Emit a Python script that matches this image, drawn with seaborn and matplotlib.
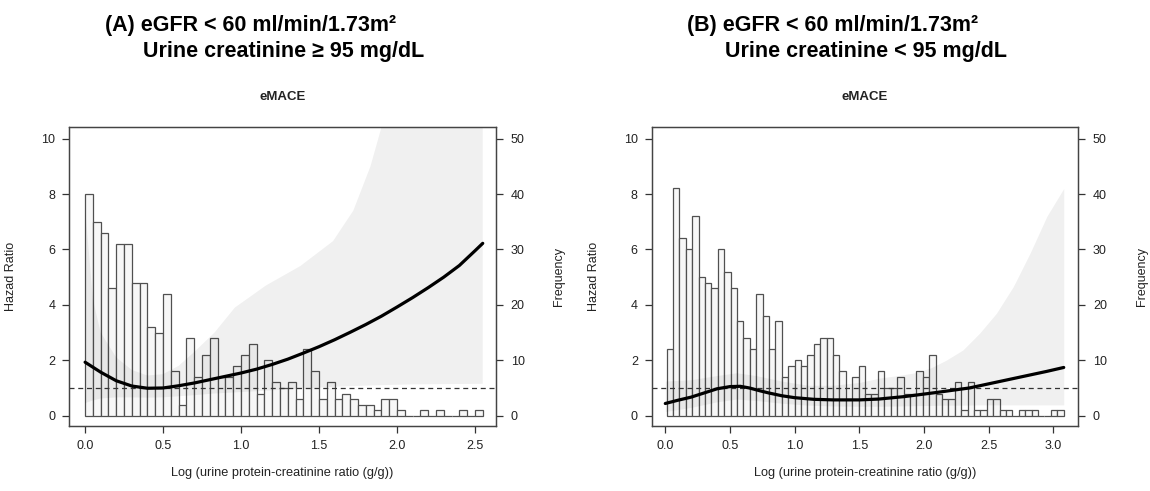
import pandas as pd
import matplotlib
matplotlib.use("Agg")
import matplotlib.pyplot as plt
import seaborn as sns

# ---- panel A: urine creatinine >= 95 ----
a_bin_start = 0.0
a_bin_width = 0.05
a_counts = [40, 35, 33, 23, 31, 31, 24, 24, 16, 15, 22, 8, 2, 14, 7, 11, 14,
            7, 7, 9, 11, 13, 4, 10, 6, 5, 6, 3, 12, 8, 3, 6, 3, 4, 3, 2, 2,
            1, 3, 3, 1, 0, 0, 1, 0, 1, 0, 0, 1, 0, 1]
a_curve_x = [0.0, 0.1, 0.2, 0.3, 0.4, 0.5, 0.6, 0.7, 0.8, 0.9, 1.0, 1.1, 1.2,
             1.3, 1.4, 1.5, 1.6, 1.7, 1.8, 1.9, 2.0, 2.1, 2.2, 2.3, 2.4, 2.5, 2.55]
a_curve_hr = [1.93, 1.57, 1.26, 1.07, 0.99, 1.0, 1.08, 1.18, 1.3, 1.42, 1.54,
              1.68, 1.85, 2.04, 2.26, 2.49, 2.74, 3.01, 3.29, 3.59, 3.92, 4.26,
              4.62, 5.0, 5.42, 5.95, 6.22]
a_band_x = [0.0, 0.05, 0.1, 0.2, 0.3, 0.4, 0.5, 0.6, 0.7, 0.83, 0.96, 1.16,
            1.38, 1.59, 1.72, 1.83, 1.9, 1.95, 2.1, 2.55]
a_band_hi = [7.5, 4.2, 3.0, 2.1, 1.65, 1.45, 1.5, 1.8, 2.3, 3.0, 3.9, 4.7,
             5.4, 6.3, 7.4, 9.0, 10.4, 12, 15, 30]
a_band_lo = [0.45, 0.55, 0.62, 0.66, 0.66, 0.65, 0.66, 0.7, 0.74, 0.8, 0.84,
             0.9, 0.98, 1.04, 1.07, 1.09, 1.1, 1.11, 1.13, 1.15]
a_xticks = [0.0, 0.5, 1.0, 1.5, 2.0, 2.5]

# ---- panel B: urine creatinine < 95 ----
b_bin_start = 0.01
b_bin_width = 0.0495
b_counts = [12, 41, 32, 30, 36, 25, 24, 23, 30, 26, 23, 17, 14, 12, 22, 18,
            12, 17, 7, 9, 10, 9, 11, 13, 14, 14, 11, 8, 3, 7, 9, 4, 4, 8, 5,
            5, 7, 4, 4, 8, 7, 11, 4, 3, 3, 6, 1, 6, 1, 1, 3, 3, 1, 1, 0, 1,
            1, 1, 0, 0, 1, 1]
b_curve_x = [0.0, 0.1, 0.2, 0.3, 0.4, 0.5, 0.58, 0.65, 0.73, 0.8, 0.9, 1.0,
             1.15, 1.3, 1.5, 1.65, 1.85, 2.1, 2.35, 2.5, 2.65, 2.8, 2.95, 3.08]
b_curve_hr = [0.44, 0.56, 0.67, 0.82, 0.97, 1.05, 1.06, 1.0, 0.9, 0.82, 0.72,
              0.65, 0.59, 0.57, 0.57, 0.6, 0.69, 0.84, 1.0, 1.15, 1.3, 1.45,
              1.6, 1.74]
b_band_x = [0.0, 0.2, 0.4, 0.55, 0.7, 0.9, 1.1, 1.3, 1.5, 1.66, 1.8, 1.92,
            2.05, 2.17, 2.3, 2.43, 2.56, 2.69, 2.82, 2.95, 3.08]
b_band_hi = [1.25, 1.3, 1.45, 1.55, 1.45, 1.25, 1.1, 1.1, 1.2, 1.36, 1.45,
             1.54, 1.72, 2.0, 2.37, 2.98, 3.7, 4.66, 5.87, 7.2, 8.2]
b_band_lo = [0.15, 0.3, 0.5, 0.6, 0.55, 0.45, 0.38, 0.35, 0.34, 0.34, 0.35,
             0.36, 0.37, 0.38, 0.38, 0.39, 0.39, 0.39, 0.39, 0.39, 0.39]
b_xticks = [0.0, 0.5, 1.0, 1.5, 2.0, 2.5, 3.0]

titles = [("(A) eGFR < 60 ml/min/1.73m\u00b2", "Urine creatinine \u2265 95 mg/dL"),
          ("(B) eGFR < 60 ml/min/1.73m\u00b2", "Urine creatinine < 95 mg/dL")]
subtitle = "eMACE"
xlabel = "Log (urine protein-creatinine ratio (g/g))"
hr_label = "Hazad Ratio"
freq_label = "Frequency"
hr_ticks = [0, 2, 4, 6, 8, 10]
freq_ticks = [0, 10, 20, 30, 40, 50]

sns.set_theme(style="ticks")
plt.rcParams["font.family"] = ["Liberation Sans", "DejaVu Sans"]
txt = "#222222"


def draw_panel(ax_f, counts, bin_start, bin_width, curve_x, curve_hr,
               band_x, band_lo, band_hi, xticks, xlim):
    edges = [bin_start + bin_width * i for i in range(len(counts) + 1)]
    hist_df = pd.DataFrame({"x": [e + bin_width / 2 for e in edges[:-1]],
                            "n": counts})
    sns.histplot(data=hist_df, x="x", weights="n", bins=edges, ax=ax_f,
                 color="#f7f7f7", edgecolor="#505050", linewidth=0.9, alpha=1)
    ax_f.set_ylim(-1.86, 52.15)

    # hazard ratio layer on a twin axis
    ax_h = ax_f.twinx()
    ax_h.fill_between(band_x, band_lo, band_hi, color="black", alpha=0.058,
                      linewidth=0)
    ax_h.axhline(1, color="#333333", linewidth=0.9, linestyle=(0, (4, 3)))
    sns.lineplot(x=curve_x, y=curve_hr, ax=ax_h, color="black", linewidth=2.3)
    ax_h.set_ylim(-0.372, 10.43)
    ax_f.set_xlim(*xlim)

    # frequency on the right, hazard ratio on the left
    ax_f.yaxis.tick_right()
    ax_f.yaxis.set_label_position("right")
    ax_h.yaxis.tick_left()
    ax_h.yaxis.set_label_position("left")

    ax_f.set_yticks(freq_ticks)
    ax_h.set_yticks(hr_ticks)
    ax_f.set_xticks(xticks)
    ax_f.set_xticklabels([f"{t:.1f}" for t in xticks])

    ax_f.tick_params(axis="y", length=5, width=0.9, pad=5.5, labelsize=9,
                     colors="#333333", labelcolor=txt)
    ax_h.tick_params(axis="y", length=5, width=0.9, pad=5, labelsize=9,
                     colors="#333333", labelcolor=txt)
    ax_f.tick_params(axis="x", length=5, width=0.9, pad=5, labelsize=9,
                     colors="#333333", labelcolor=txt)

    ax_f.set_ylabel(freq_label, fontsize=9, color=txt)
    ax_h.set_ylabel(hr_label, fontsize=9, color=txt)
    ax_f.set_xlabel(xlabel, fontsize=9.2, color=txt)
    ax_f.yaxis.set_label_coords(1.134, 0.5)
    ax_h.yaxis.set_label_coords(-0.122, 0.5)
    ax_f.xaxis.set_label_coords(0.5, -0.137)

    for ax in (ax_f, ax_h):
        for sp in ax.spines.values():
            sp.set_color("#444444")
            sp.set_linewidth(0.9)
    return ax_h


fig = plt.figure(figsize=(11.5, 4.91), dpi=100)
ax_a = fig.add_axes([0.0603, 0.1324, 0.371, 0.6096])
ax_b = fig.add_axes([0.5667, 0.1324, 0.371, 0.6096])

draw_panel(ax_a, a_counts, a_bin_start, a_bin_width, a_curve_x, a_curve_hr,
           a_band_x, a_band_lo, a_band_hi, a_xticks, (-0.101, 2.635))
draw_panel(ax_b, b_counts, b_bin_start, b_bin_width, b_curve_x, b_curve_hr,
           b_band_x, b_band_lo, b_band_hi, b_xticks, (-0.105, 3.193))

for ax, (l1, l2), x1, x2 in [(ax_a, titles[0], 0.0913, 0.1245),
                              (ax_b, titles[1], 0.5974, 0.6304)]:
    fig.text(x1, 0.9375, l1, fontsize=15.5, fontweight="bold",
             ha="left", va="baseline", color="black")
    fig.text(x2, 0.8845, l2, fontsize=15.5, fontweight="bold",
             ha="left", va="baseline", color="black")
    ax.text(0.5, 1.099, subtitle, transform=ax.transAxes, fontsize=9.5,
            fontweight="bold", ha="center", va="center", color=txt)

fig.savefig("out.png", dpi=100)
